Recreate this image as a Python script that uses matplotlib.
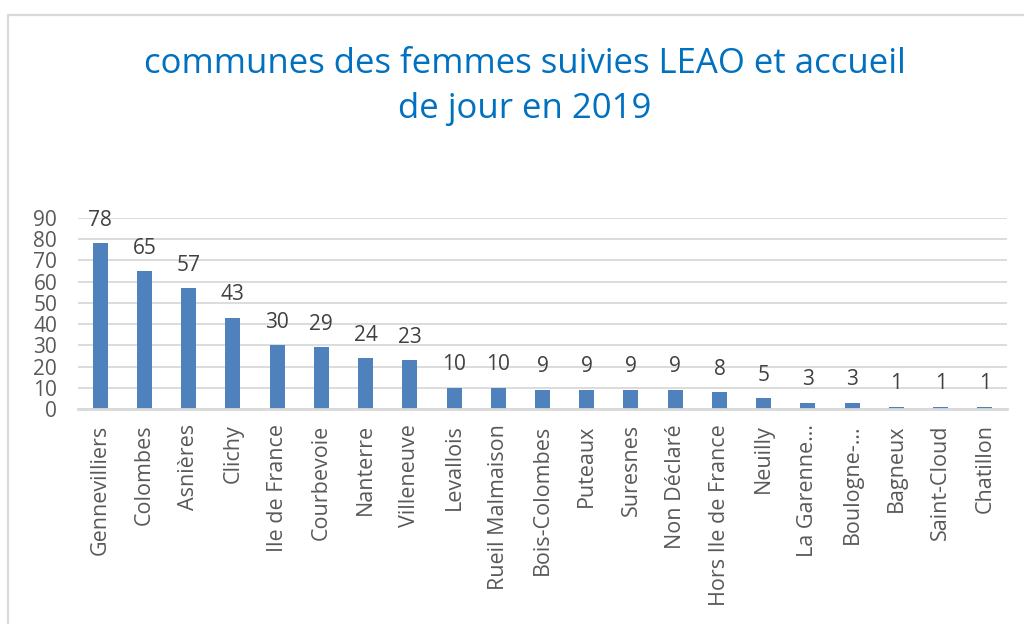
import matplotlib
matplotlib.use("Agg")
import matplotlib.pyplot as plt
from matplotlib.patches import Rectangle

categories = ["Gennevilliers", "Colombes", "Asnières", "Clichy", "Ile de France",
              "Courbevoie", "Nanterre", "Villeneuve", "Levallois", "Rueil Malmaison",
              "Bois-Colombes", "Puteaux", "Suresnes", "Non Déclaré", "Hors Ile de France",
              "Neuilly", "La Garenne…", "Boulogne-…", "Bagneux", "Saint-Cloud", "Chatillon"]
values = [78, 65, 57, 43, 30, 29, 24, 23, 10, 10, 9, 9, 9, 9, 8, 5, 3, 3, 1, 1, 1]
yticks = [0, 10, 20, 30, 40, 50, 60, 70, 80, 90]
title_lines = ["communes des femmes suivies LEAO et accueil", "de jour en 2019"]

plt.rcParams['font.family'] = ['Open Sans', 'DejaVu Sans']

W, H = 1024, 624
fig = plt.figure(figsize=(W / 100, H / 100), dpi=100)

# chart border
fig.patches.append(Rectangle((8 / W, -0.1), 1.2, 1 - 15 / H + 0.1, transform=fig.transFigure,
                             fill=False, edgecolor="#D9D9D9", linewidth=1.6))

ax = fig.add_axes([78 / W, 1 - 409 / H, (1007 - 78) / W, (409 - 218) / H])
x = list(range(len(categories)))
bars = ax.bar(x, values, width=0.34, color="#4F81BD", zorder=2)
for xi, v in zip(x, values):
    ax.annotate(str(v), (xi, v), xytext=(0, 9), textcoords="offset points",
                ha="center", va="bottom", fontsize=15, color="#404040")

ax.set_xlim(-0.5, len(categories) - 0.5)
ax.set_ylim(0, 90)
ax.set_yticks(yticks)
ax.set_yticklabels([str(t) for t in yticks])
ax.set_xticks(x)
ax.set_xticklabels(categories, rotation=90)
ax.tick_params(axis="y", length=0, pad=15, labelsize=15, labelcolor="#595959")
ax.tick_params(axis="x", length=0, pad=11, labelsize=15.5, labelcolor="#595959")
ax.yaxis.grid(True, color="#D9D9D9", linewidth=1.3, zorder=0)
ax.set_axisbelow(True)
for s in ["top", "right", "left"]:
    ax.spines[s].set_visible(False)
ax.spines["bottom"].set_color("#D9D9D9")
ax.spines["bottom"].set_linewidth(2)
ax.spines["bottom"].set_zorder(3)

fig.text(525 / W, 1 - 73 / H, title_lines[0], ha="center", va="baseline", fontsize=25,
         color="#0070C0")
fig.text(525 / W, 1 - 118 / H, title_lines[1], ha="center", va="baseline", fontsize=25,
         color="#0070C0")

fig.savefig("out.png", dpi=100)
